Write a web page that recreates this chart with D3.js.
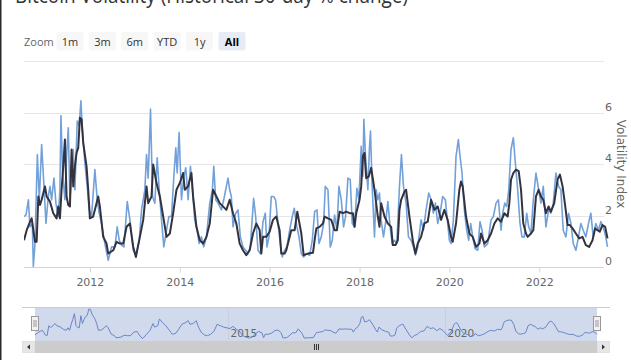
<!DOCTYPE html>
<html><head><meta charset="utf-8">
<script src="https://cdn.jsdelivr.net/npm/d3@7"></script>
<style>
html,body{margin:0;padding:0;background:#fff;overflow:hidden}
svg{display:block;font-family:"DejaVu Sans",sans-serif}
</style></head>
<body>
<svg id="c" width="631" height="360"></svg>
<script>
const titleText = "Bitcoin Volatility (Historical 30-day % change)";
const zoomButtons = ["1m","3m","6m","YTD","1y","All"];
const selectedButton = "All";
const yTicks = [0,2,4,6,8];
const xTickYears = [2012,2014,2016,2018,2020,2022];
const navTickYears = [2015,2020];
const yAxisTitle = "Volatility Index";

// [decimal year, value]
const blueSeries = [
[2010.533,1.96],[2010.578,2.02],[2010.630,2.61],[2010.667,1.56],[2010.719,1.69],[2010.741,0.02],[2010.778,0.91],[2010.830,4.37],[2010.874,2.61],[2010.926,4.76],[2010.978,3.13],
[2011.022,1.69],[2011.074,2.74],[2011.111,3.13],[2011.148,2.61],[2011.200,3.45],[2011.244,2.48],[2011.296,1.96],[2011.333,3.0],[2011.356,5.87],[2011.393,3.65],[2011.444,2.61],[2011.481,4.30],[2011.519,5.41],[2011.556,2.61],[2011.593,3.52],[2011.630,4.56],[2011.667,3.0],[2011.719,5.67],[2011.763,5.48],[2011.800,6.45],[2011.837,5.22],[2011.889,4.04],[2011.941,3.13],[2011.985,2.22],
[2012.037,1.96],[2012.111,3.78],[2012.163,2.61],[2012.207,2.09],[2012.259,1.69],[2012.333,0.91],[2012.407,0.26],[2012.481,0.78],[2012.556,0.78],[2012.607,1.56],[2012.652,1.04],[2012.704,0.85],[2012.756,0.78],[2012.830,2.54],[2012.889,1.83],[2012.963,0.65],
[2013.022,0.46],[2013.096,1.04],[2013.148,2.22],[2013.222,3.0],[2013.259,4.37],[2013.296,3.45],[2013.348,6.13],[2013.393,2.74],[2013.444,2.48],[2013.496,4.24],[2013.541,3.0],[2013.593,1.83],[2013.644,0.78],[2013.704,1.43],[2013.756,1.96],[2013.815,1.96],[2013.867,3.52],[2013.911,4.63],[2013.941,3.65],[2013.985,5.22],
[2014.037,2.61],[2014.089,3.52],[2014.133,3.85],[2014.185,2.61],[2014.237,3.91],[2014.281,3.0],[2014.333,1.83],[2014.385,1.43],[2014.430,0.91],[2014.481,1.17],[2014.533,0.78],[2014.593,1.17],[2014.667,2.48],[2014.726,3.0],[2014.756,3.91],[2014.800,2.61],[2014.852,2.48],[2014.926,2.22],[2014.978,2.61],
[2015.022,3.0],[2015.074,3.45],[2015.111,3.0],[2015.148,2.74],[2015.185,1.56],[2015.244,2.09],[2015.296,2.22],[2015.348,1.17],[2015.407,0.78],[2015.467,0.65],[2015.519,0.52],[2015.570,0.78],[2015.644,2.67],[2015.689,1.96],[2015.741,0.65],[2015.793,0.52],[2015.852,1.76],[2015.904,2.09],[2015.941,0.78],[2015.985,1.17],
[2016.037,2.74],[2016.089,2.74],[2016.133,2.61],[2016.185,1.69],[2016.237,0.91],[2016.281,0.39],[2016.333,0.65],[2016.385,0.78],[2016.444,1.43],[2016.504,1.96],[2016.548,2.28],[2016.593,1.69],[2016.652,1.17],[2016.704,0.52],[2016.756,0.39],[2016.815,0.52],[2016.889,0.45],[2016.948,1.04],
[2017.0,2.15],[2017.052,2.22],[2017.096,0.91],[2017.148,1.17],[2017.200,1.69],[2017.237,3.13],[2017.296,3.0],[2017.348,0.78],[2017.393,1.04],[2017.444,2.02],[2017.496,1.43],[2017.541,3.13],[2017.593,2.61],[2017.644,1.56],[2017.689,1.96],[2017.741,3.45],[2017.793,3.39],[2017.837,1.69],[2017.889,1.56],[2017.941,3.06],[2017.985,2.61],
[2018.037,4.69],[2018.074,3.52],[2018.096,5.74],[2018.133,4.30],[2018.185,3.0],[2018.222,4.69],[2018.244,5.28],[2018.281,3.13],[2018.333,1.17],[2018.370,3.0],[2018.407,2.61],[2018.444,2.87],[2018.481,1.83],[2018.533,1.17],[2018.578,1.69],[2018.630,2.54],[2018.681,1.56],[2018.726,0.91],[2018.778,1.04],[2018.830,0.91],[2018.889,3.13],[2018.933,4.37],[2018.978,3.13],
[2019.037,2.48],[2019.089,1.17],[2019.148,1.04],[2019.200,0.78],[2019.244,0.46],[2019.296,0.78],[2019.370,1.83],[2019.422,1.43],[2019.481,2.22],[2019.541,2.87],[2019.593,2.61],[2019.644,2.09],[2019.689,2.48],[2019.741,1.69],[2019.793,2.09],[2019.852,2.74],[2019.911,2.61],[2019.963,1.69],
[2020.0,1.04],[2020.037,0.91],[2020.089,1.83],[2020.148,4.30],[2020.200,4.95],[2020.237,4.30],[2020.281,3.65],[2020.333,2.22],[2020.385,1.43],[2020.430,1.04],[2020.474,1.69],[2020.519,1.17],[2020.570,0.72],[2020.630,0.65],[2020.681,1.76],[2020.726,1.43],[2020.778,0.78],[2020.852,0.91],[2020.926,1.83],[2020.978,1.96],
[2021.037,2.48],[2021.089,2.61],[2021.148,1.43],[2021.185,2.09],[2021.230,2.48],[2021.274,2.35],[2021.319,3.0],[2021.370,4.56],[2021.422,5.02],[2021.467,4.04],[2021.519,3.0],[2021.570,1.69],[2021.615,1.17],[2021.667,1.17],[2021.719,2.09],[2021.763,1.56],[2021.815,1.30],[2021.867,2.61],[2021.926,3.65],[2021.985,3.0],
[2022.037,2.48],[2022.089,3.13],[2022.148,1.56],[2022.207,2.22],[2022.259,2.09],[2022.311,2.48],[2022.370,3.65],[2022.430,3.13],[2022.481,3.0],[2022.533,1.43],[2022.593,1.17],[2022.652,2.09],[2022.704,1.69],[2022.756,0.91],[2022.815,0.65],[2022.874,1.17],[2022.926,1.69],[2022.978,1.43],
[2023.037,1.17],[2023.096,1.69],[2023.148,2.09],[2023.200,1.17],[2023.259,1.69],[2023.319,1.43],[2023.370,1.76],[2023.422,1.56],[2023.481,1.17],[2023.519,0.78]
];

const darkSeries = [
[2010.533,1.04],[2010.593,1.43],[2010.667,1.76],[2010.704,1.89],[2010.741,1.43],[2010.778,0.98],[2010.815,0.98],[2010.852,2.74],[2010.889,2.41],[2010.926,2.61],
[2011.0,3.13],[2011.037,2.74],[2011.111,2.54],[2011.185,2.09],[2011.259,1.89],[2011.296,2.35],[2011.333,1.89],[2011.370,3.0],[2011.407,3.91],[2011.444,4.95],[2011.481,2.74],[2011.519,2.41],[2011.556,2.35],[2011.593,4.56],[2011.630,3.13],[2011.667,3.91],[2011.704,4.43],[2011.741,4.63],[2011.778,5.8],[2011.815,5.74],[2011.852,4.82],[2011.926,3.91],[2011.963,3.0],
[2012.0,1.89],[2012.074,1.96],[2012.148,2.48],[2012.185,2.74],[2012.222,2.35],[2012.296,1.17],[2012.370,0.91],[2012.407,0.52],[2012.519,0.65],[2012.593,0.98],[2012.667,0.91],[2012.741,0.91],[2012.815,1.56],[2012.889,1.69],[2012.963,0.78],
[2013.022,0.39],[2013.111,1.17],[2013.185,1.83],[2013.259,3.13],[2013.296,2.48],[2013.370,2.74],[2013.407,3.98],[2013.481,3.26],[2013.556,2.74],[2013.630,1.96],[2013.704,1.17],[2013.778,1.30],[2013.852,2.09],[2013.926,3.0],
[2014.0,3.26],[2014.074,3.65],[2014.111,3.0],[2014.185,3.13],[2014.259,3.65],[2014.296,2.74],[2014.370,1.56],[2014.444,1.04],[2014.519,0.91],[2014.593,1.17],[2014.667,1.69],[2014.741,3.0],[2014.815,2.74],[2014.889,2.48],
[2015.037,2.22],[2015.111,2.61],[2015.185,2.09],[2015.259,1.69],[2015.333,0.91],[2015.407,0.65],[2015.481,0.46],[2015.556,0.65],[2015.630,1.30],[2015.704,1.69],[2015.778,1.43],[2015.815,0.52],[2015.852,1.17],[2015.926,1.17],
[2016.0,1.37],[2016.074,1.83],[2016.148,1.96],[2016.222,1.43],[2016.259,0.52],[2016.333,0.52],[2016.370,0.65],[2016.481,1.43],[2016.556,1.43],[2016.615,2.15],[2016.704,1.30],[2016.756,0.46],[2016.852,0.52],[2016.963,0.55],
[2017.0,1.04],[2017.037,1.50],[2017.111,1.56],[2017.185,1.69],[2017.222,1.96],[2017.296,1.89],[2017.370,1.83],[2017.444,1.43],[2017.496,1.43],[2017.556,2.15],[2017.630,2.09],[2017.704,2.15],[2017.778,2.09],[2017.852,2.09],[2017.889,1.56],[2017.926,2.09],
[2018.0,2.61],[2018.037,3.13],[2018.074,4.30],[2018.111,4.43],[2018.148,3.45],[2018.207,3.52],[2018.259,3.85],[2018.333,3.0],[2018.407,1.96],[2018.444,1.56],[2018.481,2.48],[2018.556,1.96],[2018.630,1.69],[2018.704,1.56],[2018.741,0.85],[2018.800,0.85],[2018.852,1.04],[2018.889,2.22],[2018.926,2.61],
[2019.0,2.93],[2019.037,3.0],[2019.111,1.96],[2019.185,1.04],[2019.244,0.52],[2019.296,0.91],[2019.370,1.17],[2019.444,1.69],[2019.519,1.76],[2019.593,2.61],[2019.667,2.22],[2019.741,2.35],[2019.815,1.83],[2019.889,2.22],[2019.963,1.83],
[2020.037,1.17],[2020.074,0.98],[2020.148,1.69],[2020.222,3.0],[2020.259,3.32],[2020.296,3.13],[2020.370,1.96],[2020.444,1.30],[2020.519,1.17],[2020.593,0.78],[2020.667,0.91],[2020.704,1.30],[2020.778,0.91],[2020.852,1.04],[2020.926,1.30],
[2021.0,1.69],[2021.074,1.89],[2021.148,1.76],[2021.222,2.09],[2021.296,1.96],[2021.333,2.48],[2021.370,3.39],[2021.422,3.65],[2021.481,3.78],[2021.541,3.72],[2021.593,3.0],[2021.644,1.69],[2021.704,1.30],[2021.741,1.17],[2021.815,1.30],[2021.867,1.43],[2021.926,2.74],[2021.985,3.0],
[2022.037,2.74],[2022.089,2.61],[2022.148,2.09],[2022.207,2.35],[2022.259,2.15],[2022.333,2.48],[2022.407,3.39],[2022.459,3.59],[2022.519,3.13],[2022.578,2.35],[2022.630,1.63],[2022.681,1.63],[2022.741,1.50],[2022.815,1.30],[2022.889,1.11],[2022.963,1.17],
[2023.037,0.85],[2023.111,0.78],[2023.185,1.04],[2023.244,1.50],[2023.296,1.43],[2023.348,1.37],[2023.407,1.63],[2023.467,1.56],[2023.519,1.11]
];

function yearToDate(y){
  const yr = Math.floor(y), f = y - yr;
  const a = Date.UTC(yr,0,1), b = Date.UTC(yr+1,0,1);
  return new Date(a + f*(b-a));
}

const svg = d3.select("#c");
const W = 631, H = 360;
const plot = {left:24, right:604, top:61, bottom:267};
const dataRight = 607.5;

// left edge line
svg.append("rect").attr("x",0).attr("y",0).attr("width",1.5).attr("height",H).attr("fill","#2a2a2a");

// title (cut off at top, as in the reference)
svg.append("text").attr("x",15).attr("y",2.5).attr("font-family","'Open Sans',sans-serif")
  .attr("font-size",22).attr("fill","#333").attr("textLength",393).attr("lengthAdjust","spacingAndGlyphs")
  .text(titleText);

// range selector
const rsFont = "'Open Sans',sans-serif";
svg.append("text").attr("x",24).attr("y",45.5).attr("font-family",rsFont).attr("font-size",11).attr("fill","#666").text("Zoom");
const bg = svg.append("g");
zoomButtons.forEach((b,i)=>{
  const cx = 70 + i*32.4;
  const sel = b===selectedButton;
  bg.append("rect").attr("x",cx-13.5).attr("y",32).attr("width",27).attr("height",18.5).attr("rx",2)
    .attr("fill", sel ? "#e6ebf5" : "#f7f7f7");
  bg.append("text").attr("x",cx).attr("y",45.5).attr("text-anchor","middle").attr("font-family",rsFont).attr("font-size",11)
    .attr("fill", sel ? "#000" : "#333").attr("font-weight", sel ? "bold" : "normal").text(b);
});

// scales
const t0 = yearToDate(blueSeries[0][0]), t1 = yearToDate(blueSeries[blueSeries.length-1][0]);
const x = d3.scaleUtc().domain([t0,t1]).range([plot.left, dataRight]);
const y = d3.scaleLinear().domain([0,8]).range([plot.bottom, plot.top]);

// gridlines
svg.append("g").selectAll("line").data(yTicks).join("line")
  .attr("x1",plot.left).attr("x2",plot.right).attr("y1",d=>Math.round(y(d))+0.5).attr("y2",d=>Math.round(y(d))+0.5)
  .attr("stroke",d=>d===0?"#ccd6eb":"#e6e6e6").attr("stroke-width",1);

// y labels (right, above gridline, last label hidden)
svg.append("g").selectAll("text").data(yTicks.slice(0,-1)).join("text")
  .attr("x",plot.right+1).attr("y",d=>y(d)-2).attr("font-size",11).attr("fill","#666").text(d=>d);

// y title
svg.append("text").attr("transform",`translate(617,164) rotate(90)`).attr("text-anchor","middle")
  .attr("font-size",12).attr("fill","#666").text(yAxisTitle);

// x axis
const xAxis = d3.axisBottom(x).tickValues(xTickYears.map(yr=>new Date(Date.UTC(yr,0,1))))
  .tickFormat(d3.utcFormat("%Y")).tickSize(5).tickSizeOuter(0);
const xg = svg.append("g").attr("transform",`translate(0,${Math.round(y(0))+0.5})`).call(xAxis);
xg.select(".domain").remove();
xg.selectAll(".tick line").attr("stroke","#ccd6eb");
xg.selectAll(".tick text").attr("fill","#666").attr("font-size",11).attr("font-family","'DejaVu Sans',sans-serif").attr("dy","0.95em");

// series
svg.append("clipPath").attr("id","pc").append("rect")
  .attr("x",plot.left).attr("y",plot.top-10).attr("width",dataRight-plot.left+2).attr("height",plot.bottom-plot.top+14);
const line = d3.line().x(d=>x(yearToDate(d[0]))).y(d=>y(d[1]));
svg.append("path").datum(blueSeries).attr("clip-path","url(#pc)").attr("d",line).attr("fill","none")
  .attr("stroke","#72a1d9").attr("stroke-width",1.6).attr("stroke-linejoin","round");
svg.append("path").datum(darkSeries).attr("clip-path","url(#pc)").attr("d",line).attr("fill","none")
  .attr("stroke","#33333f").attr("stroke-width",2).attr("stroke-linejoin","round");

// navigator
const nav = {left:35, right:597, top:307, bottom:340};
const nx = d3.scaleUtc().domain([t0,t1]).range([nav.left, nav.right]);
const ny = d3.scaleLinear().domain(d3.extent(darkSeries,d=>d[1])).range([338.5, 309]);
const ng = svg.append("g");
ng.append("line").attr("x1",22).attr("x2",610).attr("y1",nav.top+0.5).attr("y2",nav.top+0.5).attr("stroke","#cccccc");
ng.append("rect").attr("x",nav.left).attr("y",nav.top+1).attr("width",nav.right-nav.left).attr("height",nav.bottom-nav.top)
  .attr("fill","rgba(102,133,194,0.3)");
navTickYears.forEach(yr=>{
  const px = Math.round(nx(new Date(Date.UTC(yr,0,1))))+0.5;
  ng.append("line").attr("x1",px).attr("x2",px).attr("y1",nav.top+1).attr("y2",nav.bottom).attr("stroke","#c8cfdf");
  ng.append("text").attr("x",px+2).attr("y",337).attr("font-size",10.5).attr("fill","#666").text(yr);
});
const nline = d3.line().x(d=>nx(yearToDate(d[0]))).y(d=>ny(d[1]));
ng.append("path").datum(darkSeries).attr("d",nline).attr("fill","none").attr("stroke","#6985c6").attr("stroke-width",1);
[nav.left, nav.right].forEach(hx=>{
  ng.append("rect").attr("x",hx-3.5).attr("y",316.5).attr("width",7).attr("height",14).attr("fill","#f2f2f2").attr("stroke","#999");
  ng.append("line").attr("x1",hx-1).attr("x2",hx-1).attr("y1",320).attr("y2",327).attr("stroke","#999");
  ng.append("line").attr("x1",hx+1).attr("x2",hx+1).attr("y1",320).attr("y2",327).attr("stroke","#999");
});
// scrollbar
const sb = svg.append("g");
sb.append("rect").attr("x",22).attr("y",341).attr("width",588).attr("height",12).attr("fill","#f2f2f2");
sb.append("rect").attr("x",nav.left).attr("y",341).attr("width",nav.right-nav.left).attr("height",12).attr("fill","#cccccc");
sb.append("rect").attr("x",22.5).attr("y",341.5).attr("width",12).attr("height",11).attr("fill","#e6e6e6").attr("stroke","#e0e0e0");
sb.append("rect").attr("x",597.5).attr("y",341.5).attr("width",12).attr("height",11).attr("fill","#e6e6e6").attr("stroke","#e0e0e0");
sb.append("path").attr("d","M30,344.5 L27,347 L30,349.5 Z").attr("fill","#333");
sb.append("path").attr("d","M602,344.5 L605,347 L602,349.5 Z").attr("fill","#333");
const gx = (nav.left+nav.right)/2;
[-2,0,2].forEach(o=>sb.append("line").attr("x1",gx+o+0.5).attr("x2",gx+o+0.5).attr("y1",344).attr("y2",350).attr("stroke","#333"));
</script>
</body></html>
